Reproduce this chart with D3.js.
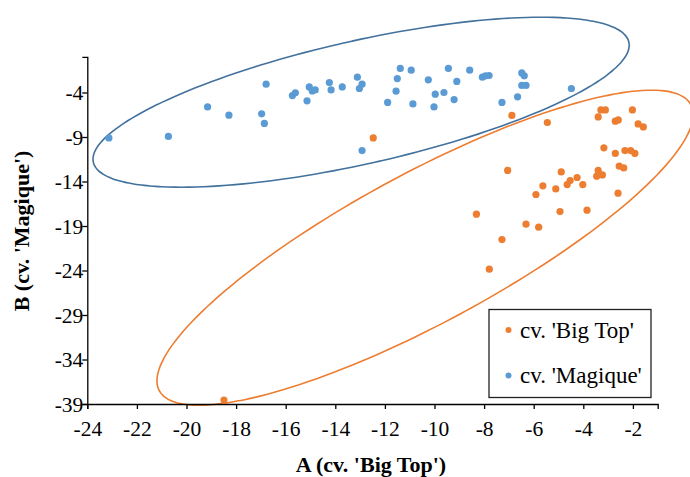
<!DOCTYPE html>
<html>
<head>
<meta charset="utf-8">
<script src="https://cdn.jsdelivr.net/npm/d3@7"></script>
<style>
  html, body { margin: 0; padding: 0; background: #fff; }
  svg { display: block; }
  text { font-family: "Liberation Serif", "Times New Roman", serif; fill: #000; }
</style>
</head>
<body>
<div id="chart"></div>
<script>
// ---- Data ----
const seriesNames = ["cv. 'Big Top'", "cv. 'Magique'"];

const bigTopX = [-12.47, -6.88, -5.45, -3.29, -3.11, -3.40, -2.02, -2.71, -2.59, -1.79, -1.58,
  -3.17, -2.71, -2.32, -2.09, -1.92, -2.55, -2.37, -7.05, -4.89, -3.40, -3.46, -3.23, -4.25,
  -4.53, -4.65, -4.02, -5.63, -5.11, -5.91, -2.60, -8.31, -4.94, -3.85, -6.31, -5.80, -7.28,
  -7.79, -18.49];
const bigTopY = [-9.10, -6.58, -7.37, -5.96, -5.96, -6.74, -5.96, -7.22, -7.08, -7.53, -7.87,
  -10.22, -10.85, -10.52, -10.52, -10.85, -12.28, -12.47, -12.76, -12.92, -12.76, -13.40, -13.26, -13.55,
  -13.89, -14.34, -14.34, -14.49, -14.83, -15.46, -15.31, -17.67, -17.37, -17.22, -18.80, -19.13, -20.52,
  -23.85, -38.55];

const magiqueX = [-23.13, -20.73, -19.15, -18.29, -16.97, -16.86, -16.79, -15.73, -15.61, -15.14, -15.05,
  -14.93, -14.81, -14.24, -14.17, -13.72, -13.11, -13.03, -12.92, -12.92, -11.89, -11.55, -11.50, -11.38,
  -10.94, -10.87, -10.25, -10.02, -9.97, -9.62, -9.44, -9.21, -9.10, -8.58, -8.07, -7.94, -7.80,
  -7.28, -6.65, -6.48, -6.38, -6.48, -6.31, -4.48];
const magiqueY = [-9.10, -8.94, -5.62, -6.55, -6.40, -7.48, -3.07, -4.34, -4.04, -4.94, -3.37,
  -3.82, -3.71, -2.88, -3.71, -3.37, -2.28, -3.55, -3.07, -10.52, -5.12, -3.85, -2.43, -1.30,
  -1.49, -5.28, -2.58, -5.62, -4.19, -4.00, -1.30, -4.79, -2.76, -1.49, -2.28, -2.13, -2.09,
  -5.12, -4.49, -1.80, -2.13, -3.21, -3.21, -3.55];

// Confidence ellipses: centre, half-extent in x and y, correlation
const bigTopEllipse = [-10.38, -21.44, 10.81, 17.70, 0.8445];
const magiqueEllipse = [-12.96, -5.09, 10.81, 9.55, 0.6706];

const xTicks = [-24, -22, -20, -18, -16, -14, -12, -10, -8, -6, -4, -2];
const yTicks = [-39, -34, -29, -24, -19, -14, -9, -4];
const xDomain = [-24, -1];
const yDomain = [-39, 0];

const xTitle = "A (cv. 'Big Top')";
const yTitle = "B (cv. 'Magique')";

// ---- Styles ----
const W = 690, H = 477;
const orange = "#ED7D31", blue = "#5B9BD5", blueLine = "#41719C";

const svg = d3.select("#chart").append("svg").attr("width", W).attr("height", H);

const x = d3.scaleLinear().domain(xDomain).range([87.3, 657.7]);
const y = d3.scaleLinear().domain(yDomain).range([404, 56.9]);

// ellipse paths
function ellipsePoints(p) {
  const [cx, cy, hx, hy, rho] = p;
  const s = Math.sqrt(1 - rho * rho);
  return d3.range(0, 360, 2).map(d => {
    const t = d * Math.PI / 180;
    return [cx + hx * Math.cos(t), cy + hy * (rho * Math.cos(t) + s * Math.sin(t))];
  });
}
const line = d3.line().x(d => x(d[0])).y(d => y(d[1])).curve(d3.curveCardinalClosed);

svg.append("path").attr("d", line(ellipsePoints(magiqueEllipse)))
  .attr("fill", "none").attr("stroke", blueLine).attr("stroke-width", 1.6);
svg.append("path").attr("d", line(ellipsePoints(bigTopEllipse)))
  .attr("fill", "none").attr("stroke", orange).attr("stroke-width", 1.6);

// axes
const xAxis = svg.append("g").attr("transform", `translate(0,${y(yDomain[0])})`)
  .call(d3.axisBottom(x).tickValues(xTicks).tickSizeOuter(0).tickSize(5).tickFormat(d => d));
const yAxis = svg.append("g").attr("transform", `translate(${x(xDomain[0])},0)`)
  .call(d3.axisLeft(y).tickValues(yTicks).tickSizeOuter(0).tickSize(5).tickFormat(d => d));

[xAxis, yAxis].forEach(g => {
  g.select(".domain").attr("stroke", "#000").attr("stroke-width", 1.3);
  g.selectAll(".tick line").attr("stroke", "#000").attr("stroke-width", 1.3);
  g.selectAll(".tick text").style("font-family", "'Liberation Serif', 'Times New Roman', serif")
    .style("font-size", "21.5px").attr("fill", "#000");
});
xAxis.selectAll(".tick text").attr("dy", "0.71em").attr("y", 17);
yAxis.selectAll(".tick text").attr("x", -4).attr("dy", "0.34em");

// points
svg.append("g").selectAll("circle").data(bigTopX.map((v, i) => [v, bigTopY[i]]))
  .join("circle").attr("cx", d => x(d[0])).attr("cy", d => y(d[1])).attr("r", 3.6)
  .attr("fill", orange);
svg.append("g").selectAll("circle").data(magiqueX.map((v, i) => [v, magiqueY[i]]))
  .join("circle").attr("cx", d => x(d[0])).attr("cy", d => y(d[1])).attr("r", 3.6)
  .attr("fill", blue);

// axis titles
svg.append("text").attr("x", 371).attr("y", 472)
  .attr("text-anchor", "middle").style("font-size", "22px").style("font-weight", "bold")
  .text(xTitle);
svg.append("text").attr("transform", `translate(29,231) rotate(-90)`)
  .attr("text-anchor", "middle").style("font-size", "22px").style("font-weight", "bold")
  .text(yTitle);

// legend
const lg = svg.append("g");
lg.append("rect").attr("x", 489).attr("y", 309.5).attr("width", 162).attr("height", 88)
  .attr("fill", "#fff").attr("stroke", "#222").attr("stroke-width", 1.3);
const legendColors = [orange, blue];
seriesNames.forEach((n, i) => {
  const cy = 330 + i * 45.5;
  lg.append("circle").attr("cx", 508.5).attr("cy", cy).attr("r", 3).attr("fill", legendColors[i]);
  lg.append("text").attr("x", 520).attr("y", cy + 7.5).style("font-size", "23px").text(n);
});
</script>
</body>
</html>
